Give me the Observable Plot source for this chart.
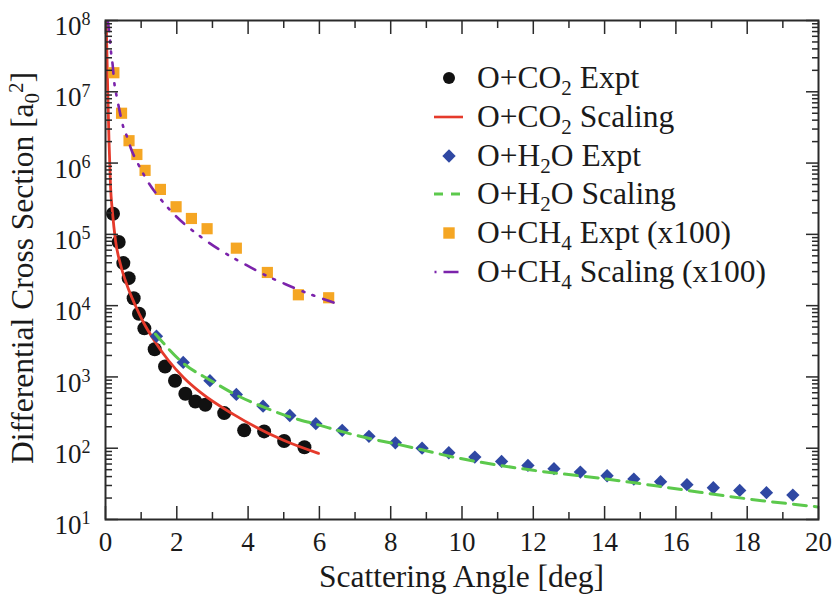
<!DOCTYPE html>
<html>
<head>
<meta charset="utf-8">
<script src="https://cdn.jsdelivr.net/npm/d3@7"></script>
<script src="https://cdn.jsdelivr.net/npm/@observablehq/plot@0.6"></script>
<style>
  html, body { margin: 0; padding: 0; background: #fff; }
  #wrap { position: relative; width: 836px; height: 598px; font-family: "Liberation Serif", "Times New Roman", serif; color: #1a1a1a; }
  #legend { position: absolute; left: 0; top: 0; }
  .lrow { position: absolute; left: 430px; height: 38px; display: flex; align-items: center; white-space: nowrap; font-size: 31.5px; }
  .lrow svg { width: 38px; height: 38px; margin-right: 9px; flex: none; }
  .lrow sub { font-size: 21px; vertical-align: -7px; line-height: 0; }
</style>
</head>
<body>
<div id="wrap"></div>
<script>
// ---------------- data ----------------
const co2ExptAngle = [0.21, 0.37, 0.50, 0.65, 0.79, 0.94, 1.09, 1.38, 1.67, 1.95, 2.24, 2.52, 2.80, 3.33, 3.89, 4.45, 5.01, 5.58];
const co2ExptDcs   = [1.95e5, 7.8e4, 3.95e4, 2.43e4, 1.27e4, 7.7e3, 4.8e3, 2.45e3, 1.40e3, 885, 581, 453, 407, 311, 178, 172, 126, 103];

const co2ScalingAngle = [0.020, 0.056, 0.098, 0.140, 0.196, 0.280, 0.421, 0.617, 0.813, 1.066, 1.403, 1.767, 2.188, 2.665, 3.590, 4.993, 5.975];
const co2ScalingDcs   = [1e8, 1.44e7, 2.07e6, 4.85e5, 2.03e5, 8.2e4, 3.78e4, 1.86e4, 1.07e4, 5.8e3, 3.05e3, 1.70e3, 984, 607, 298, 129, 84.5];

const h2oExptAngle = [1.43, 2.18, 2.93, 3.67, 4.42, 5.17, 5.90, 6.64, 7.39, 8.13, 8.88, 9.63, 10.36, 11.11, 11.85, 12.58, 13.32, 14.07, 14.82, 15.57, 16.31, 17.05, 17.79, 18.54, 19.28];
const h2oExptDcs   = [3730, 1600, 885, 569, 389, 288, 221, 178, 147, 119, 100, 86.4, 75, 65.3, 57.4, 51.6, 46.3, 41.1, 36.9, 33.9, 30.8, 27.9, 25.6, 23.8, 22.0];

const h2oScalingAngle = [1.40, 2.2, 2.95, 3.69, 4.44, 5.19, 5.94, 6.69, 7.43, 8.18, 10, 12, 14, 16, 18, 20];
const h2oScalingDcs   = [4000, 1530, 893, 551, 377, 273, 215, 168, 136, 114, 71, 49, 37.3, 27, 19.5, 15];

const ch4ExptAngle = [0.235, 0.45, 0.66, 0.88, 1.11, 1.54, 1.98, 2.41, 2.85, 3.67, 4.54, 5.41, 6.26];
const ch4ExptDcs   = [1.85e7, 5.0e6, 2.06e6, 1.32e6, 7.9e5, 4.27e5, 2.44e5, 1.67e5, 1.20e5, 6.4e4, 2.92e4, 1.42e4, 1.29e4];

const ch4ScalingAngle = [0.065, 0.12, 0.16, 0.196, 0.25, 0.31, 0.37, 0.50, 0.61, 0.70, 0.96, 1.24, 1.55, 2.0, 2.71, 3.46, 3.97, 4.52, 5.05, 5.61, 6.15, 6.45];
const ch4ScalingDcs   = [1e8, 5.8e7, 3.4e7, 2.5e7, 1.3e7, 8.8e6, 6.2e6, 3.2e6, 2.3e6, 1.67e6, 8.8e5, 5.0e5, 3.1e5, 1.75e5, 8.96e4, 5.06e4, 3.66e4, 2.62e4, 2.0e4, 1.53e4, 1.22e4, 1.08e4];

const xMajorTicks = [0, 2, 4, 6, 8, 10, 12, 14, 16, 18, 20];
const xMinorTicks = [1, 3, 5, 7, 9, 11, 13, 15, 17, 19];
const yMajorTicks = [1e1, 1e2, 1e3, 1e4, 1e5, 1e6, 1e7, 1e8];
const yMinorMultipliers = [2, 3, 4, 5, 6, 7, 8, 9];

const legendLabels = [
  "O+CO<sub>2</sub> Expt",
  "O+CO<sub>2</sub> Scaling",
  "O+H<sub>2</sub>O Expt",
  "O+H<sub>2</sub>O Scaling",
  "O+CH<sub>4</sub> Expt (x100)",
  "O+CH<sub>4</sub> Scaling (x100)"
];

// ---------------- styles ----------------
const C = {
  co2: "#111111", co2Line: "#e53a2b",
  h2o: "#2f48a3", h2oLine: "#5cc94c",
  ch4: "#f5a623", ch4Line: "#7b23ab",
  axis: "#2a2a2a"
};
const purpleDash = "11,9.5,2,8.5,2,9.5";
const greenDash = "13,8";

const zip = (xs, ys) => xs.map((x, i) => ({x, y: ys[i]}));
const co2Expt = zip(co2ExptAngle, co2ExptDcs);
const co2Scal = zip(co2ScalingAngle, co2ScalingDcs);
const h2oExpt = zip(h2oExptAngle, h2oExptDcs);
const h2oScal = zip(h2oScalingAngle, h2oScalingDcs);
const ch4Expt = zip(ch4ExptAngle, ch4ExptDcs);
const ch4Scal = zip(ch4ScalingAngle, ch4ScalingDcs);

const yMinorTicks = yMajorTicks.slice(0, -1).flatMap(d => yMinorMultipliers.map(m => d * m));

const tickCommon = {label: null, fill: "none", stroke: C.axis};

const plot = Plot.plot({
  width: 836,
  height: 598,
  marginLeft: 105,
  marginRight: 18,
  marginTop: 20,
  marginBottom: 79,
  style: {fontFamily: "Liberation Serif, Times New Roman, serif", background: "#fff", color: "#1a1a1a", overflow: "visible"},
  x: {domain: [0, 20]},
  y: {type: "log", domain: [10, 1e8]},
  marks: [
    // data
    Plot.dot(co2Expt, {x: "x", y: "y", r: 7, fill: C.co2, stroke: "none"}),
    Plot.line(co2Scal, {x: "x", y: "y", stroke: C.co2Line, strokeWidth: 2.8, curve: "monotone-x", clip: true}),
    Plot.dot(h2oExpt, {x: "x", y: "y", symbol: "diamond2", r: 6, fill: C.h2o, stroke: "none"}),
    Plot.line(h2oScal, {x: "x", y: "y", stroke: C.h2oLine, strokeWidth: 3, strokeDasharray: greenDash, curve: "monotone-x", clip: true}),
    Plot.dot(ch4Expt, {x: "x", y: "y", symbol: "square", r: 6.3, fill: C.ch4, stroke: "none"}),
    Plot.line(ch4Scal, {x: "x", y: "y", stroke: C.ch4Line, strokeWidth: 2.6, strokeDasharray: purpleDash, curve: "monotone-x", clip: true}),
    // ticks (inward)
    Plot.axisX(xMajorTicks, {...tickCommon, anchor: "bottom", tickSize: -13, strokeWidth: 1.5}),
    Plot.axisX(xMinorTicks, {...tickCommon, anchor: "bottom", tickSize: -7, strokeWidth: 1.5}),
    Plot.axisX(xMajorTicks, {...tickCommon, anchor: "top", tickSize: -13, strokeWidth: 1.5}),
    Plot.axisX(xMinorTicks, {...tickCommon, anchor: "top", tickSize: -7, strokeWidth: 1.5}),
    Plot.axisY(yMajorTicks, {...tickCommon, anchor: "left", tickSize: -13, strokeWidth: 1.5}),
    Plot.axisY(yMinorTicks, {...tickCommon, anchor: "left", tickSize: -7, strokeWidth: 1.5}),
    Plot.axisY(yMajorTicks, {...tickCommon, anchor: "right", tickSize: -13, strokeWidth: 1.5}),
    Plot.axisY(yMinorTicks, {...tickCommon, anchor: "right", tickSize: -7, strokeWidth: 1.5}),
    // tick labels
    Plot.axisX(xMajorTicks, {anchor: "bottom", label: null, tickSize: 0, tickPadding: 12, fontSize: 27, fill: "#1a1a1a"}),
    Plot.axisY(yMajorTicks, {anchor: "left", label: null, tickSize: 0, tickPadding: 15, fontSize: 27, fill: "#1a1a1a", dy: 6,
      tickFormat: d => "10^" + Math.round(Math.log10(d))}),
    Plot.frame({stroke: C.axis, strokeWidth: 2})
  ]
});

// superscripts on y tick labels
d3.select(plot).selectAll('g[aria-label="y-axis tick label"] text').each(function () {
  const t = this.textContent;
  const [base, exp] = t.split("^");
  const s = d3.select(this);
  s.text(base);
  s.append("tspan").attr("dy", "-0.55em").attr("font-size", "18px").text(exp);
});

// axis titles
const svg = d3.select(plot);
svg.append("text")
  .attr("x", (105 + 818) / 2).attr("y", 587)
  .attr("text-anchor", "middle")
  .attr("font-size", 31.5).attr("fill", "#1a1a1a")
  .text("Scattering Angle [deg]");

const yt = svg.append("text")
  .attr("transform", "translate(33," + 268 + ") rotate(-90)")
  .attr("text-anchor", "middle")
  .attr("font-size", 31.5).attr("fill", "#1a1a1a");
yt.append("tspan").text("Differential Cross Section [a");
yt.append("tspan").attr("font-size", 21).attr("dy", 6).text("0");
yt.append("tspan").attr("font-size", 21).attr("dy", -16).text("2");
yt.append("tspan").attr("dy", 10).text("]");

const wrap = document.getElementById("wrap");
wrap.appendChild(plot);

// legend (HTML overlay)
const legend = document.createElement("div");
legend.id = "legend";
const rowCenters = [78, 117, 156, 194, 233, 272];
const symbols = [
  `<circle cx="19" cy="19" r="6" fill="${C.co2}"/>`,
  `<line x1="4" x2="33" y1="19" y2="19" stroke="${C.co2Line}" stroke-width="2.6"/>`,
  `<path d="M19 12.3 L25.7 19 L19 25.7 L12.3 19 Z" fill="${C.h2o}"/>`,
  `<line x1="4" x2="33" y1="19" y2="19" stroke="${C.h2oLine}" stroke-width="2.8" stroke-dasharray="9,8"/>`,
  `<rect x="13.3" y="13.3" width="11.4" height="11.4" fill="${C.ch4}"/>`,
  `<line x1="4.5" x2="33" y1="19" y2="19" stroke="${C.ch4Line}" stroke-width="2.6" stroke-dasharray="2,7,15,10"/>`
];
legendLabels.forEach((lab, i) => {
  const row = document.createElement("div");
  row.className = "lrow";
  row.style.top = (rowCenters[i] - 19) + "px";
  row.innerHTML = `<svg viewBox="0 0 38 38">${symbols[i]}</svg><span>${lab}</span>`;
  legend.appendChild(row);
});
wrap.appendChild(legend);
</script>
</body>
</html>
